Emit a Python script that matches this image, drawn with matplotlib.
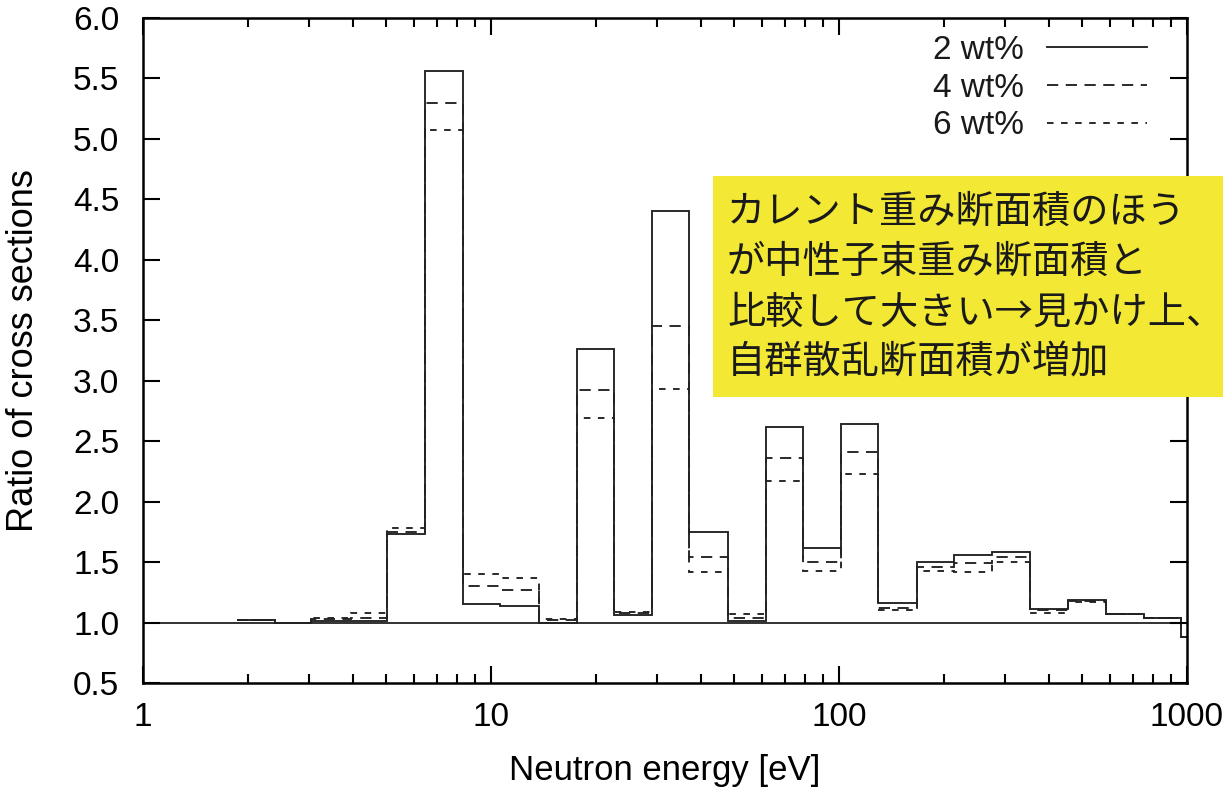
import matplotlib
matplotlib.use("Agg")
import matplotlib.pyplot as plt
from matplotlib.patches import Rectangle

# group boundaries [eV] (lethargy width ~0.25)
edges = [1.863, 2.395, 3.039, 3.961, 5.025, 6.462, 8.309, 10.61, 13.74, 17.67,
         22.56, 29.01, 37.07, 47.98, 61.69, 78.80, 101.3, 129.4, 167.5, 214.1,
         275.3, 353.9, 455.0, 585.1, 752.2, 961.2, 1300.0]

# ratio (current-weighted / flux-weighted) per group
ratio_2wt = [1.02, 1.00, 1.01, 1.015, 1.735, 5.56, 1.157, 1.14, 1.00, 3.26,
             1.06, 4.40, 1.75, 1.016, 2.62, 1.62, 2.645, 1.165, 1.50, 1.56,
             1.58, 1.11, 1.19, 1.07, 1.035, 0.88]
ratio_4wt = [1.02, 1.00, 1.03, 1.04, 1.75, 5.30, 1.30, 1.27, 1.025, 2.92,
             1.075, 3.45, 1.545, 1.04, 2.36, 1.50, 2.41, 1.12, 1.46, 1.49,
             1.54, 1.10, 1.18, 1.07, 1.035, 0.88]
ratio_6wt = [1.02, 1.00, 1.04, 1.075, 1.78, 5.07, 1.405, 1.37, 1.03, 2.69,
             1.09, 2.93, 1.42, 1.07, 2.17, 1.43, 2.23, 1.10, 1.43, 1.42,
             1.50, 1.075, 1.17, 1.07, 1.035, 0.88]

labels = ["2 wt%", "4 wt%", "6 wt%"]
y_ticks = [0.5, 1.0, 1.5, 2.0, 2.5, 3.0, 3.5, 4.0, 4.5, 5.0, 5.5, 6.0]
x_ticks = [1, 10, 100, 1000]

note = ("カレント重み断面積のほう\n"
        "が中性子束重み断面積と\n"
        "比較して大きい→見かけ上、\n"
        "自群散乱断面積が増加")

plt.rcParams['font.family'] = ['Liberation Sans', 'DejaVu Sans']
plt.rcParams['text.color'] = '#1a1a1a'

fig = plt.figure(figsize=(12.31, 7.91), dpi=100)
ax = fig.add_axes([143 / 1231, 1 - 683 / 791, (1187 - 143) / 1231, (683 - 18) / 791])

ax.axhline(1.0, color='#222222', lw=1.3, zorder=1)

styles = ['-', (0, (6.0, 4.0)), (0, (3.5, 4.0))]
for vals, lab, ls in zip([ratio_2wt, ratio_4wt, ratio_6wt], labels, styles):
    ax.stairs(vals, edges, baseline=None, color='#222222', lw=1.35,
              linestyle=ls, label=lab)

ax.set_xscale('log')
ax.set_xlim(1, 1000)
ax.set_ylim(0.5, 6.0)
ax.set_yticks(y_ticks)
ax.set_yticklabels([f"{v:.1f}" for v in y_ticks])
ax.set_xticks(x_ticks)
ax.set_xticklabels([str(v) for v in x_ticks])

for s in ax.spines.values():
    s.set_linewidth(1.8)
ax.tick_params(which='major', direction='in', length=12, width=1.5,
               top=True, right=True, labelsize=24, pad=17)
ax.tick_params(axis='x', which='major', pad=14)
ax.tick_params(which='minor', direction='in', length=6.5, width=1.5,
               top=True, right=True)
ax.tick_params(axis='y', which='minor', left=False, right=False)

ax.set_xlabel("Neutron energy [eV]", fontsize=25, labelpad=15)
ax.set_ylabel("Ratio of cross sections", fontsize=26, labelpad=23)

ax.legend(loc='upper right', bbox_to_anchor=(1 - 40 / 1044, 1 - 17 / 665),
          frameon=False, markerfirst=False, fontsize=24, handlelength=3.0,
          handletextpad=0.7, labelspacing=0.2, borderaxespad=0, borderpad=0)

fig.patches.append(Rectangle((713 / 1231, 1 - 397 / 791), (1223 - 713) / 1231,
                             (397 - 176) / 791, transform=fig.transFigure,
                             facecolor='#F3E934', edgecolor='none', zorder=5))
fig.text(727 / 1231, 1 - 193 / 791, note, fontsize=27.5, va='top', ha='left',
         family=['Noto Sans CJK JP', 'DejaVu Sans'], linespacing=1.37,
         color='#1a1a1a', zorder=6)

fig.savefig("out.png", dpi=100)
